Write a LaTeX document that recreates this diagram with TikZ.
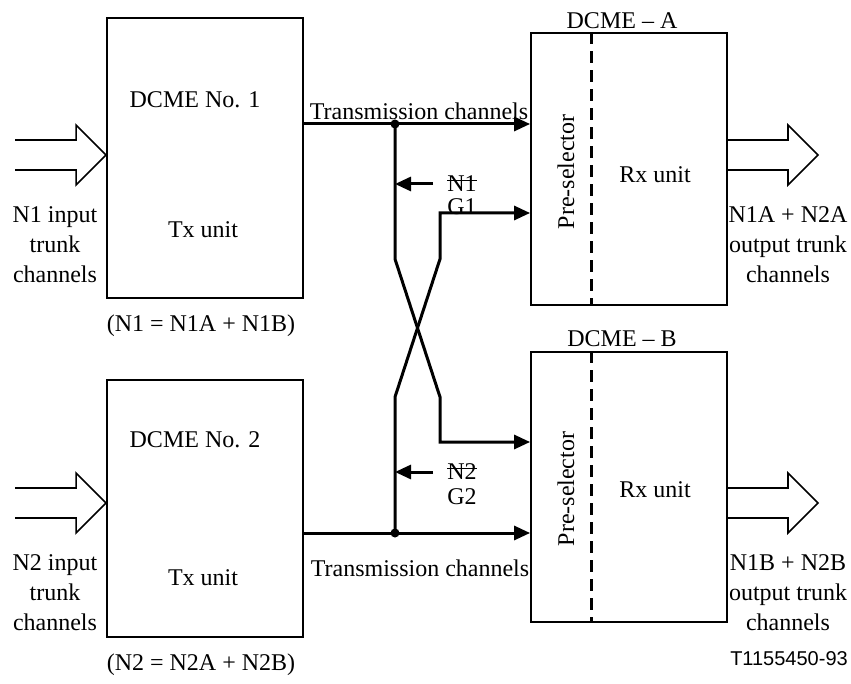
\documentclass[tikz,border=0pt]{standalone}
\usepackage{fontspec}
\setmainfont{Liberation Serif}
\newfontfamily\figfont{Liberation Sans}
\usetikzlibrary{arrows.meta,positioning}
\tikzstyle{unit}=[
	rectangle,
	draw,
	line width=0.9pt,
	minimum width=98pt,
	inner sep=0pt
]
\tikzstyle{channel}=[
	line width=1.5pt,
	line join=miter,
	-{Triangle[length=8pt,width=7pt]}
]
\tikzstyle{trunk}=[
	line width=0.8pt,
	line join=miter
]
\tikzstyle{dot}=[circle, fill, inner sep=0pt, minimum size=4.5pt]
\tikzstyle{divider}=[line width=1.5pt, dash pattern=on 6pt off 3.5pt]
\newcommand{\struck}[1]{\setbox0\hbox{#1}\rlap{\rule[0.44em]{\wd0}{0.5pt}}\box0}
\newcommand{\trunkarrow}[1]{\draw[trunk] ([shift={(-91,-15)}]#1) -- ++(61,0) -- ++(0,-15) -- (#1) -- ++(-30,30) -- ++(0,-15) -- ++(-61,0);}

\begin{document}
\begin{tikzpicture}[x=0.5pt, y=-0.5pt, every node/.style={font=\fontsize{12}{15}\selectfont}]
\useasboundingbox (0,0) rectangle (851,684);
% transmit side
\node [unit, minimum height=140pt] (TxOne) at (205,158) {};
\node [unit, minimum height=128.5pt] (TxTwo) at (205,508.5) {};
\node (TxOneName) at (195,100) {DCME No. 1};
\node (TxOneUnit) at (203,230) {Tx unit};
\node (TxOneSum) at (201,326) {(N1 = N1A + N1B)};
\node (TxOneIn) [align=center] at (55,245) {N1 input\\trunk\\channels};
\node (TxTwoName) at (195,440) {DCME No. 2};
\node (TxTwoUnit) at (203,578) {Tx unit};
\node (TxTwoSum) at (201,665) {(N2 = N2A + N2B)};
\node (TxTwoIn) [align=center] at (55,593) {N2 input\\trunk\\channels};
\coordinate (InOne) at (TxOne.west |- 0,155);
\coordinate (InTwo) at (TxTwo.west |- 0,503);
\trunkarrow{InOne}
\trunkarrow{InTwo}
% receive side
\node [unit, minimum height=136pt] (RxA) at (629,169) {};
\node [unit, minimum height=135pt] (RxB) at (629,487) {};
\node (RxAName) at (622,21) {DCME -- A};
\node (RxBName) at (622,339) {DCME -- B};
\draw[divider] ([xshift=-19pt]RxA.north) -- ([xshift=-19pt]RxA.south);
\draw[divider] ([xshift=-19pt]RxB.north) -- ([xshift=-19pt]RxB.south);
\node (PreA) [rotate=90] at (566,172) {Pre-selector};
\node (PreB) [rotate=90] at (566,489) {Pre-selector};
\node (RxAUnit) at (655,175) {Rx unit};
\node (RxBUnit) at (655,490) {Rx unit};
\node (RxAOut) [align=center] at (788,245) {N1A + N2A\\output trunk\\channels};
\node (RxBOut) [align=center] at (788,593) {N1B + N2B\\output trunk\\channels};
\coordinate (OutA) at (818,155);
\coordinate (OutB) at (818,503);
\trunkarrow{OutA}
\trunkarrow{OutB}
% transmission channels and cross-over
\node [dot] (JoinOne) at (395,124) {};
\node [dot] (JoinTwo) at (395,533) {};
\coordinate (BendOne) at (395,259);
\coordinate (BendTwo) at (440,259);
\coordinate (BendThree) at (395,397);
\coordinate (BendFour) at (440,397);
\coordinate (GOne) at (440,213);
\coordinate (GTwo) at (440,442);
\draw[channel] (TxOne.east |- JoinOne) -- (RxA.west |- JoinOne);
\draw[channel] (TxTwo.east |- JoinTwo) -- (RxB.west |- JoinTwo);
\draw[channel] (JoinOne.center) -- (BendOne) -- (BendFour) -- (GTwo) -- (RxB.west |- GTwo);
\draw[channel] (JoinTwo.center) -- (BendThree) -- (BendTwo) -- (GOne) -- (RxA.west |- GOne);
\node (TxLineOne) at (419,111) {Transmission channels};
\node (TxLineTwo) at (420,568) {Transmission channels};
% bypass labels
\coordinate (NOneTail) at (433,184);
\coordinate (NTwoTail) at (433,472);
\draw[channel] (NOneTail) -- (JoinOne |- NOneTail);
\draw[channel] (NTwoTail) -- (JoinTwo |- NTwoTail);
\node (NOneLabel) at (462,184) {\struck{N1}};
\node (GOneLabel) at (462,207) {G1};
\node (NTwoLabel) at (462,472) {\struck{N2}};
\node (GTwoLabel) at (462,497) {G2};
\node (FigId) [font=\figfont\fontsize{10}{12}\selectfont] at (789,659) {T1155450-93};
\end{tikzpicture}
\end{document}
